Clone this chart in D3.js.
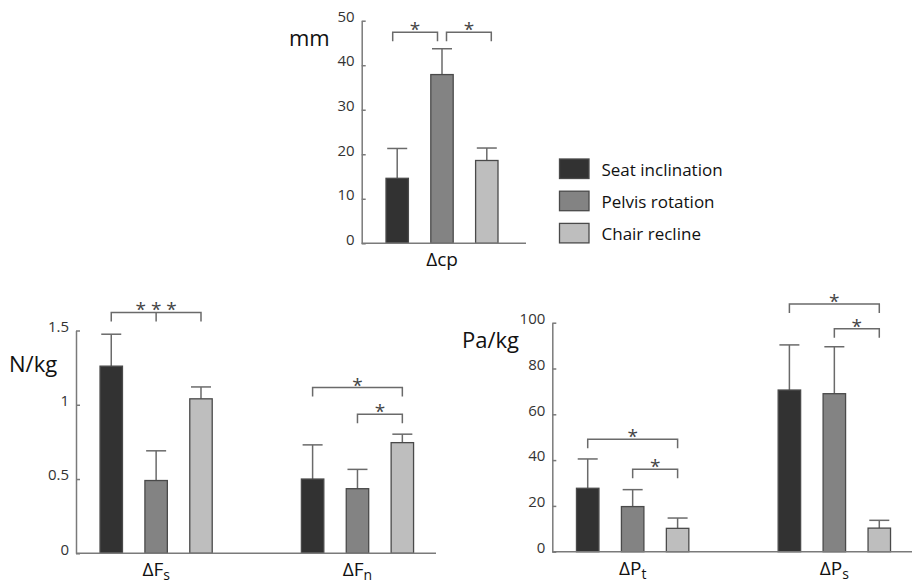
<!DOCTYPE html>
<html>
<head>
<meta charset="utf-8">
<script src="https://cdn.jsdelivr.net/npm/d3@7/dist/d3.min.js"></script>
<style>
  html, body { margin: 0; padding: 0; background: #fff; }
  svg { display: block; }
  text { font-family: "Open Sans", "Noto Sans", sans-serif; }
</style>
</head>
<body>
<svg id="chart" width="912" height="583"></svg>
<script>
// ---------------- DATA ----------------
const seriesNames = ["Seat inclination", "Pelvis rotation", "Chair recline"];
const seriesColors = ["#323232", "#838383", "#bebebe"];

// Panel A: centre of pressure displacement (mm)
const cpGroups = ["Δcp"];
const cpMeans = [[14.6, 37.9, 18.6]];
const cpSD = [[6.7, 5.8, 2.8]];
const cpTicks = [0, 10, 20, 30, 40, 50];

// Panel B: forces (N/kg)
const forceGroups = ["ΔF_s", "ΔF_n"];
const forceMeans = [[1.26, 0.49, 1.04], [0.50, 0.435, 0.745]];
const forceSD = [[0.215, 0.20, 0.08], [0.23, 0.13, 0.057]];
const forceTicks = [0, 0.5, 1, 1.5];

// Panel C: pressures (Pa/kg)
const pressGroups = ["ΔP_t", "ΔP_s"];
const pressMeans = [[27.7, 19.7, 10.2], [70.6, 69.0, 10.3]];
const pressSD = [[12.8, 7.4, 4.5], [19.7, 20.5, 3.4]];
const pressTicks = [0, 20, 40, 60, 80, 100];

// significance brackets: [groupIndex, fromSeries, toSeries, level (data units), label, middleLegSeries or null]
const cpBrackets = [[0, 0, 1, 47.4, "*", null], [0, 1, 2, 47.4, "*", null]];
const forceBrackets = [[0, 0, 2, 1.622, "* * *", 1], [1, 0, 2, 1.116, "*", null], [1, 1, 2, 0.936, "*", null]];
const pressBrackets = [[0, 0, 2, 49.1, "*", null], [0, 1, 2, 36.0, "*", null], [1, 0, 2, 108.2, "*", null], [1, 1, 2, 97.4, "*", null]];

// ---------------- DRAW ----------------
const svg = d3.select("#chart");
svg.append("rect").attr("width", 912).attr("height", 583).attr("fill", "#fff");

const axisColor = "#7a7a7a";
const annColor = "#6a6a6a";

function drawPanel(cfg) {
  const g = svg.append("g");
  const y = d3.scaleLinear().domain([0, d3.max(cfg.ticks)]).range([cfg.y0, cfg.yTop]);
  const x0 = d3.scaleBand().domain(d3.range(cfg.groups.length)).range(cfg.groupRange)
    .paddingInner(cfg.groups.length > 1 ? 0.22 : 0).paddingOuter(0);
  const x1 = d3.scaleBand().domain(d3.range(seriesNames.length)).range([0, x0.bandwidth()]).padding(0.5);
  const cx = (gi, si) => x0(gi) + x1(si) + x1.bandwidth() / 2;

  // y axis
  const yAxis = d3.axisLeft(y).tickValues(cfg.ticks).tickSizeInner(-4).tickSizeOuter(0)
    .tickPadding(7).tickFormat(d => String(d));
  const ya = g.append("g").attr("transform", `translate(${cfg.axisX},0)`).call(yAxis);
  ya.select(".domain").attr("stroke", axisColor).attr("stroke-width", 1.5);
  ya.selectAll(".tick line").attr("stroke", axisColor).attr("stroke-width", 1.5);
  ya.selectAll(".tick text").attr("fill", "#333").attr("font-size", 15)
    .attr("font-family", "'Open Sans', sans-serif").attr("dy", "0.05em");

  // error bars (behind bars)
  cfg.groups.forEach((grp, gi) => {
    seriesNames.forEach((s, si) => {
      const m = cfg.means[gi][si], sd = cfg.sd[gi][si];
      const xc = cx(gi, si);
      g.append("line").attr("x1", xc).attr("x2", xc).attr("y1", y(m)).attr("y2", y(m + sd))
        .attr("stroke", annColor).attr("stroke-width", 1.5);
      g.append("line").attr("x1", xc - 10).attr("x2", xc + 10).attr("y1", y(m + sd)).attr("y2", y(m + sd))
        .attr("stroke", annColor).attr("stroke-width", 1.5);
    });
  });

  // bars
  cfg.groups.forEach((grp, gi) => {
    g.selectAll(null).data(cfg.means[gi]).enter().append("rect")
      .attr("x", (d, si) => x0(gi) + x1(si))
      .attr("width", x1.bandwidth())
      .attr("y", d => y(d))
      .attr("height", d => y(0) - y(d))
      .attr("fill", (d, si) => seriesColors[si])
      .attr("stroke", "#4a4a4a").attr("stroke-width", 1.3);
  });

  // x axis line
  g.append("line").attr("x1", cfg.axisX).attr("x2", cfg.axisEnd).attr("y1", y(0)).attr("y2", y(0))
    .attr("stroke", axisColor).attr("stroke-width", 1.5);

  // group labels
  cfg.groups.forEach((grp, gi) => {
    const parts = grp.split("_");
    const t = g.append("text").attr("x", x0(gi) + x0.bandwidth() / 2).attr("y", y(0) + 23)
      .attr("text-anchor", "middle").attr("font-size", 19).attr("fill", "#111");
    t.append("tspan").text(parts[0]);
    if (parts[1]) t.append("tspan").attr("font-size", 14).attr("dy", 4).text(parts[1]);
  });

  // unit label
  g.append("text").attr("x", cfg.unitX).attr("y", cfg.unitY).attr("font-size", 22).attr("fill", "#111")
    .text(cfg.unit);

  // brackets
  cfg.brackets.forEach((b, bi) => {
    const [gi, a, c, lvl, label, mid] = b;
    let shift = 0;
    cfg.brackets.forEach((o, oi) => {
      if (oi === bi || o[0] !== gi || o[3] !== lvl) return;
      if (o[1] === c) shift = -4.5;
      if (o[2] === a) shift = 4.5;
    });
    const xa = cx(gi, a) + shift, xb = cx(gi, c) + shift, yy = y(lvl);
    const leg = 9;
    g.append("path")
      .attr("d", `M${xa},${yy + leg}V${yy}H${xb}V${yy + leg}`)
      .attr("fill", "none").attr("stroke", annColor).attr("stroke-width", 1.5);
    if (mid !== null) {
      const xm = cx(gi, mid) + shift;
      g.append("line").attr("x1", xm).attr("x2", xm).attr("y1", yy).attr("y2", yy + leg)
        .attr("stroke", annColor).attr("stroke-width", 1.5);
    }
    g.append("text").attr("x", (xa + xb) / 2).attr("y", yy + 4)
      .attr("text-anchor", "middle").attr("font-size", 19).attr("fill", "#444")
      .attr("xml:space", "preserve")
      .text(label);
  });
}

drawPanel({
  groups: cpGroups, means: cpMeans, sd: cpSD, ticks: cpTicks, brackets: cpBrackets,
  y0: 243.3, yTop: 20.7, axisX: 361.7, axisEnd: 526, groupRange: [363.6, 520.4],
  unit: "mm", unitX: 289, unitY: 46
});
drawPanel({
  groups: forceGroups, means: forceMeans, sd: forceSD, ticks: forceTicks, brackets: forceBrackets,
  y0: 553.3, yTop: 330.5, axisX: 76, axisEnd: 436, groupRange: [77.6, 436],
  unit: "N/kg", unitX: 9, unitY: 372
});
drawPanel({
  groups: pressGroups, means: pressMeans, sd: pressSD, ticks: pressTicks, brackets: pressBrackets,
  y0: 551.7, yTop: 322.7, axisX: 552.3, axisEnd: 912, groupRange: [554, 913],
  unit: "Pa/kg", unitX: 462, unitY: 348
});

// legend
const legend = svg.append("g");
seriesNames.forEach((name, i) => {
  legend.append("rect").attr("x", 559.5).attr("y", 159 + i * 32.2).attr("width", 29.5).attr("height", 19.5)
    .attr("fill", seriesColors[i]).attr("stroke", "#4a4a4a").attr("stroke-width", 1.3);
  legend.append("text").attr("x", 601.5).attr("y", 175.5 + i * 32.2).attr("font-size", 17)
    .attr("fill", "#111").text(name);
});
</script>
</body>
</html>
